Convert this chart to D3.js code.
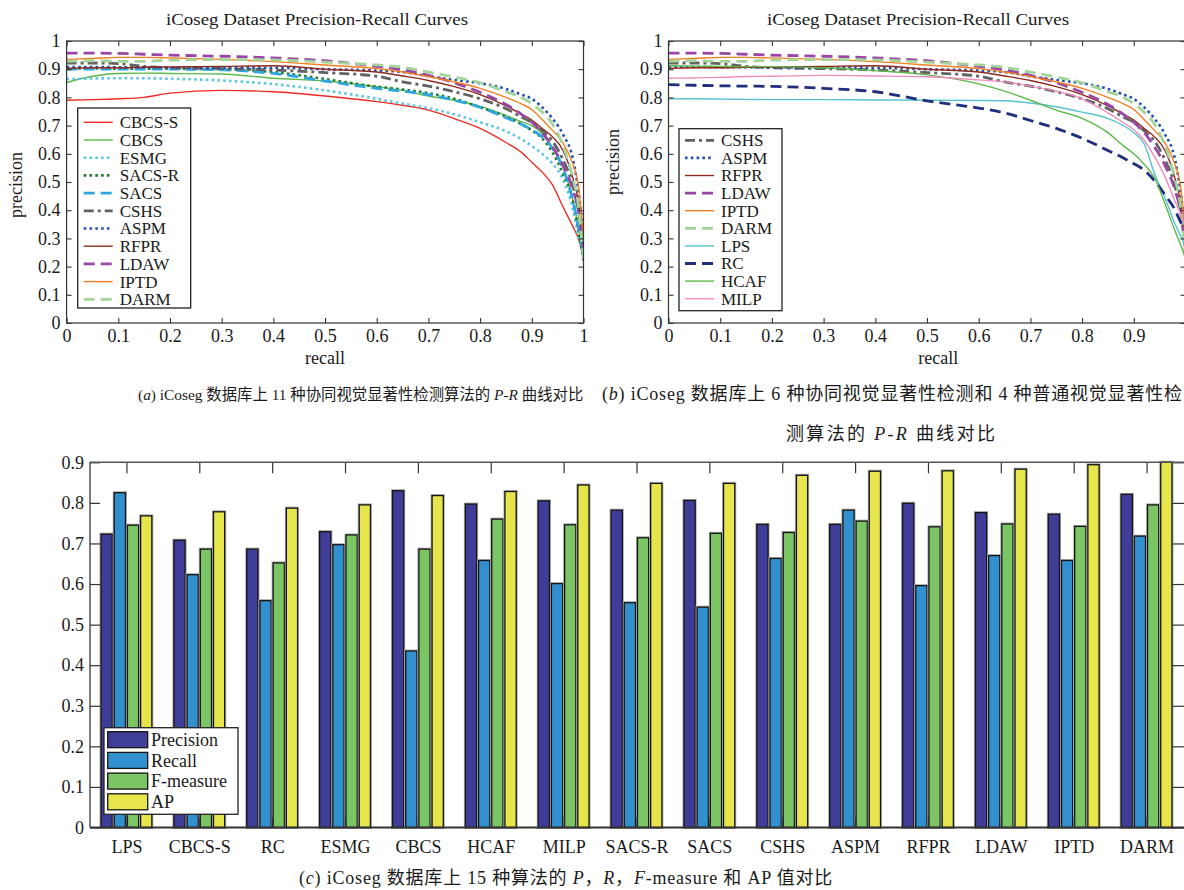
<!DOCTYPE html>
<html><head><meta charset="utf-8">
<script src="https://cdn.jsdelivr.net/npm/d3@7"></script>
<style>
body{margin:0;background:#fff}
svg{display:block}
text{font-family:"Liberation Serif","Times New Roman","Noto Sans CJK SC",serif;fill:#1a1a1a}
</style>
</head><body>
<svg id="c" width="1184" height="890"></svg>
<script>
// ---------------- data ----------------
const prRecall = [0, 0.05, 0.1, 0.15, 0.2, 0.3, 0.4, 0.5, 0.6, 0.65, 0.7, 0.75, 0.8, 0.85, 0.88, 0.9, 0.92, 0.94, 0.96, 0.98, 0.99, 1.0];
const prCBCS_S = [0.79, 0.792, 0.795, 0.80, 0.815, 0.825, 0.82, 0.805, 0.785, 0.772, 0.755, 0.725, 0.69, 0.64, 0.605, 0.57, 0.535, 0.49, 0.413, 0.34, 0.30, 0.23];
const prCBCS   = [0.853, 0.875, 0.885, 0.886, 0.885, 0.883, 0.868, 0.858, 0.838, 0.825, 0.805, 0.79, 0.768, 0.736, 0.714, 0.70, 0.672, 0.62, 0.554, 0.43, 0.34, 0.223];
const prESMG   = [0.865, 0.867, 0.868, 0.868, 0.866, 0.86, 0.847, 0.825, 0.795, 0.778, 0.762, 0.74, 0.712, 0.68, 0.652, 0.628, 0.60, 0.565, 0.51, 0.40, 0.31, 0.235];
const prSACS_R = [0.903, 0.903, 0.902, 0.902, 0.902, 0.90, 0.89, 0.865, 0.838, 0.828, 0.815, 0.795, 0.765, 0.732, 0.705, 0.683, 0.655, 0.605, 0.53, 0.43, 0.33, 0.22];
const prSACS   = [0.90, 0.90, 0.90, 0.90, 0.90, 0.898, 0.885, 0.858, 0.832, 0.822, 0.81, 0.79, 0.765, 0.728, 0.705, 0.685, 0.66, 0.62, 0.55, 0.43, 0.34, 0.25];
const prCSHS   = [0.922, 0.922, 0.92, 0.91, 0.905, 0.902, 0.897, 0.888, 0.875, 0.855, 0.84, 0.82, 0.795, 0.76, 0.73, 0.712, 0.682, 0.645, 0.58, 0.483, 0.40, 0.27];
const prASPM   = [0.908, 0.908, 0.907, 0.907, 0.906, 0.906, 0.905, 0.90, 0.895, 0.89, 0.875, 0.862, 0.85, 0.83, 0.81, 0.795, 0.765, 0.725, 0.67, 0.578, 0.47, 0.32];
const prRFPR   = [0.903, 0.905, 0.905, 0.907, 0.908, 0.91, 0.912, 0.90, 0.89, 0.876, 0.86, 0.838, 0.81, 0.77, 0.74, 0.72, 0.69, 0.66, 0.613, 0.51, 0.43, 0.25];
const prLDAW   = [0.957, 0.957, 0.956, 0.953, 0.95, 0.946, 0.94, 0.93, 0.91, 0.898, 0.878, 0.852, 0.818, 0.775, 0.74, 0.712, 0.675, 0.625, 0.56, 0.47, 0.40, 0.26];
const prIPTD   = [0.935, 0.938, 0.942, 0.942, 0.94, 0.935, 0.927, 0.915, 0.902, 0.89, 0.874, 0.855, 0.832, 0.80, 0.777, 0.757, 0.722, 0.683, 0.64, 0.56, 0.49, 0.30];
const prDARM   = [0.928, 0.93, 0.928, 0.928, 0.932, 0.934, 0.933, 0.925, 0.915, 0.907, 0.89, 0.872, 0.852, 0.82, 0.80, 0.778, 0.748, 0.705, 0.63, 0.51, 0.42, 0.223];
const prLPS    = [0.795, 0.795, 0.794, 0.793, 0.792, 0.792, 0.791, 0.79, 0.789, 0.788, 0.78, 0.767, 0.748, 0.725, 0.70, 0.675, 0.635, 0.53, 0.445, 0.35, 0.31, 0.27];
const prRC     = [0.845, 0.843, 0.841, 0.84, 0.839, 0.832, 0.82, 0.788, 0.762, 0.745, 0.718, 0.69, 0.655, 0.612, 0.585, 0.565, 0.542, 0.505, 0.455, 0.40, 0.36, 0.33];
const prHCAF   = [0.912, 0.911, 0.91, 0.909, 0.909, 0.905, 0.895, 0.88, 0.848, 0.822, 0.79, 0.755, 0.726, 0.675, 0.628, 0.60, 0.563, 0.515, 0.425, 0.325, 0.28, 0.229];
const prMILP   = [0.868, 0.869, 0.871, 0.874, 0.875, 0.878, 0.876, 0.873, 0.862, 0.855, 0.84, 0.822, 0.795, 0.745, 0.71, 0.685, 0.648, 0.59, 0.52, 0.43, 0.39, 0.34];

const methodsA = ["CBCS-S","CBCS","ESMG","SACS-R","SACS","CSHS","ASPM","RFPR","LDAW","IPTD","DARM"];
const methodsB = ["CSHS","ASPM","RFPR","LDAW","IPTD","DARM","LPS","RC","HCAF","MILP"];
const prTicks = [0,0.1,0.2,0.3,0.4,0.5,0.6,0.7,0.8,0.9,1];

const barCategories = ["LPS","CBCS-S","RC","ESMG","CBCS","HCAF","MILP","SACS-R","SACS","CSHS","ASPM","RFPR","LDAW","IPTD","DARM"];
const barPrecision = [0.723,0.708,0.686,0.729,0.830,0.797,0.805,0.782,0.806,0.747,0.747,0.799,0.776,0.772,0.821];
const barRecall    = [0.825,0.623,0.559,0.697,0.435,0.658,0.601,0.554,0.543,0.663,0.782,0.596,0.670,0.658,0.718];
const barFmeasure  = [0.745,0.686,0.652,0.721,0.686,0.760,0.746,0.714,0.725,0.727,0.755,0.741,0.748,0.742,0.795];
const barAP        = [0.768,0.778,0.787,0.795,0.818,0.828,0.844,0.848,0.848,0.868,0.878,0.879,0.883,0.894,0.900];
const barSeries = ["Precision","Recall","F-measure","AP"];
const barTicks = [0,0.1,0.2,0.3,0.4,0.5,0.6,0.7,0.8,0.9];

const prData = {"CBCS-S":prCBCS_S,"CBCS":prCBCS,"ESMG":prESMG,"SACS-R":prSACS_R,"SACS":prSACS,"CSHS":prCSHS,
  "ASPM":prASPM,"RFPR":prRFPR,"LDAW":prLDAW,"IPTD":prIPTD,"DARM":prDARM,"LPS":prLPS,"RC":prRC,"HCAF":prHCAF,"MILP":prMILP};
const barData = {"Precision":barPrecision,"Recall":barRecall,"F-measure":barFmeasure,"AP":barAP};

// ---------------- styles ----------------
const lineStyle = {
  "CBCS-S":{c:"#ee2b25",w:1.4,d:null},
  "CBCS":{c:"#5cb948",w:1.4,d:null},
  "ESMG":{c:"#5cc6e2",w:2.6,d:"2.6,3.2"},
  "SACS-R":{c:"#1f7c2c",w:2.6,d:"2.6,3.2"},
  "SACS":{c:"#2ea7df",w:2.8,d:"11,6"},
  "CSHS":{c:"#626262",w:2.8,d:"10,4,3,4"},
  "ASPM":{c:"#2350b2",w:2.6,d:"2.6,3.2"},
  "RFPR":{c:"#8e2a1e",w:1.4,d:null},
  "LDAW":{c:"#9a46a8",w:2.8,d:"11,6"},
  "IPTD":{c:"#f47e22",w:1.4,d:null},
  "DARM":{c:"#a3d598",w:2.8,d:"11,6"},
  "LPS":{c:"#57c3cf",w:1.4,d:null},
  "RC":{c:"#1f2e7e",w:2.8,d:"11,6"},
  "HCAF":{c:"#5db84a",w:1.4,d:null},
  "MILP":{c:"#f08bc0",w:1.4,d:null}
};
const barColors = {"Precision":"#3f3d98","Recall":"#3290cf","F-measure":"#7cc564","AP":"#e6e64c"};

const svg = d3.select("#c");
const fmt = d => d===0 ? "0" : d===1 ? "1" : d3.format(".1f")(d);

function prPanel(o){
  const x = d3.scaleLinear().domain([0,1]).range([o.left,o.right]);
  const y = d3.scaleLinear().domain([0,1]).range([o.bottom,o.top]);
  const g = svg.append("g");
  svg.append("clipPath").attr("id",o.id).append("rect")
    .attr("x",o.left).attr("y",o.top).attr("width",o.right-o.left).attr("height",o.bottom-o.top);
  const line = d3.line().x((d,i)=>x(prRecall[i])).y(d=>y(d)).curve(d3.curveMonotoneX);
  const lg = g.append("g").attr("clip-path",`url(#${o.id})`);
  o.methods.forEach(m=>{
    const s=lineStyle[m];
    lg.append("path").attr("d",line(prData[m])).attr("fill","none")
      .attr("stroke",s.c).attr("stroke-width",s.w).attr("stroke-dasharray",s.d)
      .attr("stroke-linejoin","round");
  });
  const axStyle = sel => { sel.select(".domain").remove(); sel.selectAll("line").attr("stroke","#333").attr("stroke-width",1.1);
    sel.selectAll("text").attr("font-size",18).attr("font-family","Liberation Serif").attr("fill","#1a1a1a"); };
  const xTickFmt = d => x(d) > 1180 ? "" : fmt(d);
  g.append("g").attr("transform",`translate(0,${o.bottom})`)
    .call(d3.axisBottom(x).tickValues(prTicks).tickFormat(xTickFmt).tickSizeInner(-5).tickSizeOuter(0).tickPadding(6)).call(axStyle);
  g.append("g").attr("transform",`translate(0,${o.top})`)
    .call(d3.axisTop(x).tickValues(prTicks).tickFormat("").tickSizeInner(-5).tickSizeOuter(0)).call(axStyle);
  g.append("g").attr("transform",`translate(${o.left},0)`)
    .call(d3.axisLeft(y).tickValues(prTicks).tickFormat(fmt).tickSizeInner(-5).tickSizeOuter(0).tickPadding(6)).call(axStyle);
  g.append("g").attr("transform",`translate(${o.right},0)`)
    .call(d3.axisRight(y).tickValues(prTicks).tickFormat("").tickSizeInner(-5).tickSizeOuter(0)).call(axStyle);
  g.append("rect").attr("x",o.left).attr("y",o.top).attr("width",o.right-o.left).attr("height",o.bottom-o.top)
    .attr("fill","none").attr("stroke","#333").attr("stroke-width",1.2);
  g.append("text").attr("x",o.titleX).attr("y",25).attr("text-anchor","middle").attr("font-size",16)
    .attr("textLength",302).attr("lengthAdjust","spacingAndGlyphs").text("iCoseg Dataset Precision-Recall Curves");
  g.append("text").attr("x",(o.left+Math.min(o.right,1184))/2+(o.recallDx||0)).attr("y",364).attr("text-anchor","middle").attr("font-size",18).text("recall");
  g.append("text").attr("transform",`translate(${o.precX},${o.precY}) rotate(-90)`).attr("text-anchor","middle")
    .attr("font-size",18).attr("dy","0.3em").text("precision");
  const L=o.legend;
  g.append("rect").attr("x",L.x).attr("y",L.y).attr("width",L.w).attr("height",L.h)
    .attr("fill","#fff").attr("stroke","#222").attr("stroke-width",1.3);
  o.methods.forEach((m,i)=>{
    const s=lineStyle[m], yy=L.row0+i*L.pitch;
    g.append("line").attr("x1",L.x+6).attr("x2",L.x+35).attr("y1",yy).attr("y2",yy)
      .attr("stroke",s.c).attr("stroke-width",s.w).attr("stroke-dasharray",s.d);
    g.append("text").attr("x",L.x+42).attr("y",yy).attr("dy","0.35em").attr("font-size",17).text(m);
  });
}

prPanel({id:"clipA",left:66.6,right:583.5,top:41,bottom:323,methods:methodsA,titleX:317,precX:17,precY:185,
  legend:{x:77.7,y:108,w:113,h:200,row0:122.3,pitch:17.7}});
prPanel({id:"clipB",left:668.5,right:1185.5,top:41,bottom:323,methods:methodsB,titleX:918,precX:614,precY:162,recallDx:12,
  legend:{x:679,y:128.7,w:103,h:182,row0:140.3,pitch:17.6}});

// ---------------- bar chart ----------------
(function(){
  const left=90, right=1183, top=462.3, bottom=827.5;
  const x = d3.scaleLinear().domain([0.5,15.5]).range([left,right]);
  const y = d3.scaleLinear().domain([0,0.9]).range([bottom,top]);
  const xs = d3.scaleBand().domain(barSeries).range([-25.4,25.4]).paddingInner(0.15).paddingOuter(0);
  const g = svg.append("g");
  barSeries.forEach(s=>{
    const gg=g.append("g");
    barCategories.forEach((c,i)=>{
      const v=barData[s][i], bx=x(i+1)+xs(s), bw=xs.bandwidth();
      gg.append("rect").attr("x",bx).attr("y",y(v)).attr("width",bw).attr("height",bottom-y(v))
        .attr("fill","none").attr("stroke","#aaa").attr("stroke-width",3);
      gg.append("rect").attr("x",bx).attr("y",y(v)).attr("width",bw).attr("height",bottom-y(v))
        .attr("fill",barColors[s]).attr("stroke","#151515").attr("stroke-width",1.3);
    });
  });
  const axStyle = sel => { sel.select(".domain").remove(); sel.selectAll("line").attr("stroke","#333").attr("stroke-width",1.2);
    sel.selectAll("text").attr("font-size",18).attr("font-family","Liberation Serif").attr("fill","#1a1a1a"); };
  const idx = d3.range(1,16);
  g.append("g").attr("transform",`translate(0,${bottom})`)
    .call(d3.axisBottom(x).tickValues(idx).tickFormat(i=>barCategories[i-1]).tickSizeInner(-10).tickSizeOuter(0).tickPadding(13)).call(axStyle);
  g.append("g").attr("transform",`translate(0,${top})`)
    .call(d3.axisTop(x).tickValues(idx).tickFormat("").tickSizeInner(-11).tickSizeOuter(0)).call(axStyle);
  g.append("g").attr("transform",`translate(${left},0)`)
    .call(d3.axisLeft(y).tickValues(barTicks).tickFormat(fmt).tickSizeInner(-10).tickSizeOuter(0).tickPadding(6)).call(axStyle);
  g.append("g").attr("transform",`translate(${right+1.5},0)`)
    .call(d3.axisRight(y).tickValues(barTicks).tickFormat("").tickSizeInner(-12).tickSizeOuter(0)).call(axStyle);
  g.append("line").attr("x1",left).attr("x2",right+2).attr("y1",top).attr("y2",top).attr("stroke","#555").attr("stroke-width",1.4);
  g.append("line").attr("x1",left).attr("x2",left).attr("y1",top).attr("y2",bottom).attr("stroke","#333").attr("stroke-width",1.3);
  g.append("line").attr("x1",left).attr("x2",right+2).attr("y1",bottom).attr("y2",bottom).attr("stroke","#333").attr("stroke-width",2);
  const lx=104, ly=727.7;
  g.append("rect").attr("x",lx).attr("y",ly).attr("width",134).attr("height",86.6)
    .attr("fill","#fff").attr("stroke","#222").attr("stroke-width",1.3);
  barSeries.forEach((s,i)=>{
    const yy=ly+4+i*20.7;
    g.append("rect").attr("x",lx+3.7).attr("y",yy).attr("width",40).attr("height",16)
      .attr("fill",barColors[s]).attr("stroke","#151515").attr("stroke-width",1.3);
    g.append("text").attr("x",lx+47).attr("y",yy+8).attr("dy","0.35em").attr("font-size",18).text(s);
  });
})();

// ---------------- captions: font size fitted (capped), small letter spacing for the rest ----------------
function caption(x,y,len,parts){
  const t=svg.append("text").attr("x",x).attr("y",y).attr("font-size",16);
  parts.forEach(p=>{ t.append("tspan").attr("font-style",p[1]?"italic":"normal").text(p[0]); });
  const w=t.node().getBBox().width;
  const fs=Math.max(12,Math.min(18,16*len/w));
  t.attr("font-size",fs);
  const w2=t.node().getBBox().width;
  if (w2<len-2){
    const n=parts.map(p=>p[0]).join("").length;
    t.attr("letter-spacing",((len-w2)/(n-1)).toFixed(3));
  }
}
caption(138,400,446,[["(",0],["a",1],[") iCoseg 数据库上 11 种协同视觉显著性检测算法的 ",0],["P-R",1],[" 曲线对比",0]]);
caption(602,400,580,[["(",0],["b",1],[") iCoseg 数据库上 6 种协同视觉显著性检测和 4 种普通视觉显著性检",0]]);
caption(786,440,209,[["测算法的 ",0],["P-R",1],[" 曲线对比",0]]);
caption(299,884,534,[["(",0],["c",1],[") iCoseg  数据库上 15 种算法的 ",0],["P",1],["，",0],["R",1],["，",0],["F",1],["-measure 和 AP 值对比",0]]);
</script>
</body></html>
